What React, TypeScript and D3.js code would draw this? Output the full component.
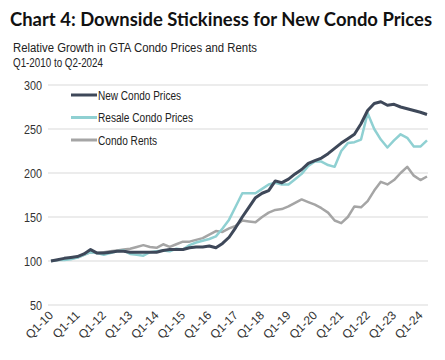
import * as d3 from "d3";

const quarterTicks = ["Q1-10", "Q1-11", "Q1-12", "Q1-13", "Q1-14", "Q1-15", "Q1-16", "Q1-17", "Q1-18", "Q1-19", "Q1-20", "Q1-21", "Q1-22", "Q1-23", "Q1-24"];
const yTicks = [50, 100, 150, 200, 250, 300];

// quarterly index values, Q1-2010 .. Q2-2024 (58 points)
const newCondo = [
  100, 101.5, 103, 104, 105, 108, 113, 109, 109, 110, 111, 111, 110, 110, 110, 110,
  110, 112, 113, 113, 113, 115, 116, 116, 117, 115, 120, 127, 138, 150, 161, 172,
  177, 180, 191, 189, 193, 199, 204, 211, 214, 217, 222, 228, 234, 239, 244, 256,
  271, 279, 281, 277, 278, 275, 273, 271, 269, 266.5,
];
const resaleCondo = [
  100, 101, 101, 102, 104, 107, 110, 109, 107, 109, 111, 112, 108, 107, 106, 110,
  111, 112, 111, 114, 113, 118, 121, 123, 125, 128, 137, 147, 162, 177, 177, 177,
  182, 187, 189, 187, 187, 193, 199, 208, 213, 213, 209, 207, 225, 234, 235, 238,
  268, 250, 238, 229, 237, 244, 240, 230, 230, 237,
];
const condoRents = [
  100, 101, 102, 103, 104, 107, 110, 109, 110, 111, 112, 113, 114, 116, 118, 116,
  115, 119, 116, 119, 122, 122, 124, 126, 130, 134, 133, 137, 140, 146, 145, 144,
  150, 155, 158, 159, 162, 166, 170, 167, 164, 160, 155, 146, 143, 150, 162, 161,
  168, 180, 190, 187, 192, 200, 207, 197, 192, 196,
];

const series = [
  { name: "New Condo Prices", values: newCondo, color: "#3e4859", width: 3, labelW: 83 },
  { name: "Resale Condo Prices", values: resaleCondo, color: "#8fd0d2", width: 2.5, labelW: 95 },
  { name: "Condo Rents", values: condoRents, color: "#a5a5a5", width: 2.5, labelW: 59 },
];

const font = "'Liberation Sans', Arial, sans-serif";

export default function App() {
  const width = 445;
  const height = 360;
  const x = d3.scaleLinear().domain([0, 57]).range([51, 427]);
  const y = d3.scaleLinear().domain([50, 300]).range([305, 85]);
  const line = d3
    .line<number>()
    .x((_, i) => x(i))
    .y((d) => y(d));

  return (
    <svg width={width} height={height} style={{ position: "absolute", left: 0, top: 0, background: "#fff" }}>
      <text x={10} y={26} fontFamily="Lato, 'Open Sans', sans-serif" fontWeight="bold" fontSize={18.5}
        textLength={422} lengthAdjust="spacingAndGlyphs" fill="#111">
        Chart 4: Downside Stickiness for New Condo Prices
      </text>
      <text x={13} y={52} fontFamily={font} fontSize={12.5} textLength={244} lengthAdjust="spacingAndGlyphs" fill="#222">
        Relative Growth in GTA Condo Prices and Rents
      </text>
      <text x={13} y={67} fontFamily={font} fontSize={12.5} textLength={90} lengthAdjust="spacingAndGlyphs" fill="#222">
        Q1-2010 to Q2-2024
      </text>

      {/* gridlines + y labels */}
      {yTicks.map((t) => (
        <g key={t}>
          <line x1={48} x2={428} y1={y(t)} y2={y(t)} stroke="#d9d9d9" strokeWidth={1} />
          <text x={42} y={y(t) + 4.5} textAnchor="end" fontFamily={font} fontSize={12.5}
            textLength={t < 100 ? 12 : 18} lengthAdjust="spacingAndGlyphs" fill="#333">
            {t}
          </text>
        </g>
      ))}

      {/* x labels */}
      {quarterTicks.map((lbl, k) => {
        const tx = x(k * 4) + 3;
        const ty = 316;
        return (
          <text key={lbl} x={tx} y={ty} textAnchor="end" fontFamily={font} fontSize={12}
            fill="#333" transform={`rotate(-45 ${tx} ${ty})`}>
            {lbl}
          </text>
        );
      })}

      {/* lines: draw rents first, then resale, then new on top */}
      {[...series].reverse().map((s) => (
        <path key={s.name} d={line(s.values) ?? ""} fill="none" stroke={s.color}
          strokeWidth={s.width} strokeLinejoin="round" />
      ))}

      {/* legend */}
      {series.map((s, i) => {
        const ly = 95 + i * 22.5;
        return (
          <g key={s.name}>
            <line x1={71} x2={97} y1={ly} y2={ly} stroke={s.color} strokeWidth={3} />
            <text x={98} y={ly + 4.5} fontFamily={font} fontSize={12.5} textLength={s.labelW}
              lengthAdjust="spacingAndGlyphs" fill="#222">
              {s.name}
            </text>
          </g>
        );
      })}
    </svg>
  );
}
